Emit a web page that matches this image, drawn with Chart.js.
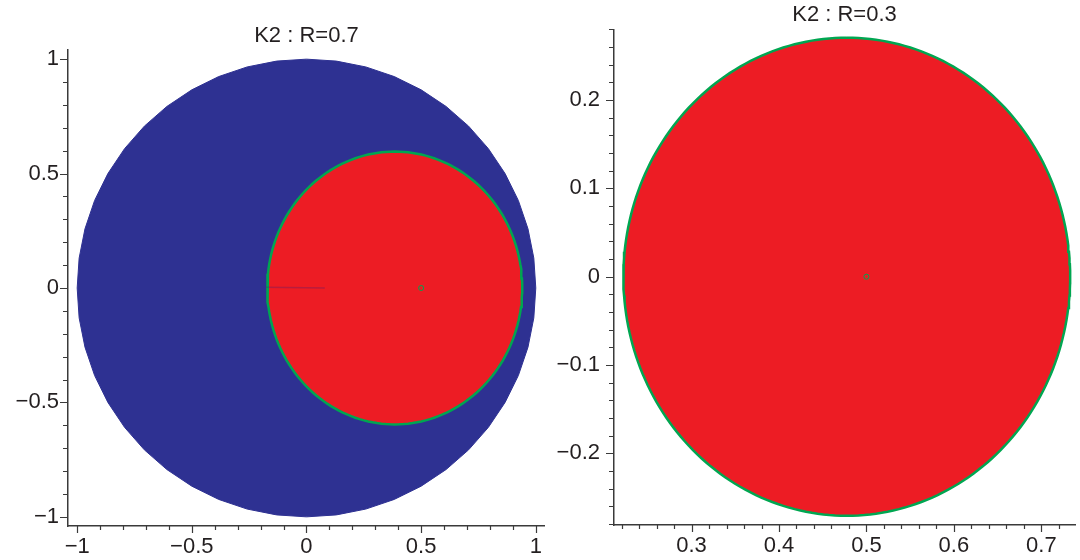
<!DOCTYPE html>
<html lang="en">
<head>
    <meta charset="UTF-8">
    <title>K2 images, R=0.7 and R=0.3</title>
    <script src="https://cdn.jsdelivr.net/npm/chart.js@4/dist/chart.umd.min.js"></script>
    <style>
        body {
            margin: 0;
            padding: 0;
            background: #ffffff;
            width: 1080px;
            height: 560px;
            overflow: hidden;
            position: relative;
        }
        canvas {
            position: absolute;
            top: 0;
        }
        #leftChart { left: 0; }
        #rightChart { left: 548px; }
    </style>
</head>
<body>
    <canvas id="leftChart" width="550" height="560"></canvas>
    <canvas id="rightChart" width="532" height="560"></canvas>

    <script>
        // --- data ---
        const leftTitle = 'K2 : R=0.7';
        const rightTitle = 'K2 : R=0.3';

        // left panel: blue unit disk (drawn as a 48-gon), red ellipse, green marker
        const blueDiskCenter = [0, 0];
        const blueDiskRadius = [1.0, 1.0];
        const blueDiskSides = 48;
        const leftRedCenter = [0.385, 0];
        const leftRedRadius = [0.556, 0.596];
        const leftStreakX = [-0.175, 0.08];
        const leftStreakY = [0.003, 0.0];
        const markerX = [0.5];
        const markerY = [0];

        // right panel: red ellipse and the same marker
        const rightRedCenter = [0.4775, 0];
        const rightRedRadius = [0.2555, 0.2705];

        // axes
        const leftRange = [-1.04, 1.04];
        const leftYRange = [-1.04, 1.04];
        const leftMajor = [-1, -0.5, 0, 0.5, 1];
        const leftLabels = ['\u22121', '\u22120.5', '0', '0.5', '1'];
        const leftMinorStep = 0.1;

        const rightXRange = [0.2113, 0.7385];
        const rightYRange = [-0.281, 0.28];
        const rightXMajor = [0.3, 0.4, 0.5, 0.6, 0.7];
        const rightXLabels = ['0.3', '0.4', '0.5', '0.6', '0.7'];
        const rightXMinor = [0.22, 0.72];
        const rightYMajor = [-0.2, -0.1, 0, 0.1, 0.2];
        const rightYLabels = ['\u22120.2', '\u22120.1', '0', '0.1', '0.2'];
        const rightYMinor = [-0.28, 0.28];
        const rightMinorStep = 0.02;

        const blue = '#2e3192';
        const red = '#ed1c24';
        const green = '#00a651';
        const axisColor = '#3a3a3a';
        const textColor = '#231f20';
        const fontFamily = '"Liberation Sans", Arial, Helvetica, sans-serif';

        // outline points of an ellipse given centre and radii
        function outline(center, radius, sides) {
            const pts = [];
            for (let i = 0; i <= sides; i++) {
                const a = Math.PI / 2 + 2 * Math.PI * i / sides;
                pts.push({x: center[0] + radius[0] * Math.cos(a), y: center[1] + radius[1] * Math.sin(a)});
            }
            return pts;
        }

        function steps(from, to, step) {
            const out = [];
            const n = Math.round((to - from) / step);
            for (let i = 0; i <= n; i++) out.push(+(from + i * step).toFixed(6));
            return out;
        }

        function zip(xs, ys) {
            return xs.map((x, i) => ({x: x, y: ys[i]}));
        }

        // major and minor tick marks, drawn on the library's own scales
        const tickMarks = {
            id: 'tickMarks',
            afterDraw(chart, args, opts) {
                const ctx = chart.ctx;
                const xs = chart.scales.x, ys = chart.scales.y;
                const isMajor = (list, v) => list.some(m => Math.abs(m - v) < 1e-6);
                ctx.save();
                ctx.strokeStyle = axisColor;
                ctx.lineWidth = 1.2;
                ctx.beginPath();
                opts.xTicks.forEach(v => {
                    const px = Math.round(xs.getPixelForValue(v)) + 0.5;
                    const len = isMajor(opts.xMajor, v) ? 7 : 4;
                    ctx.moveTo(px, xs.top);
                    ctx.lineTo(px, xs.top + len);
                });
                opts.yTicks.forEach(v => {
                    const py = Math.round(ys.getPixelForValue(v)) + 0.5;
                    const len = isMajor(opts.yMajor, v) ? 8 : 5;
                    ctx.moveTo(ys.right, py);
                    ctx.lineTo(ys.right - len, py);
                });
                ctx.stroke();
                ctx.restore();
            }
        };

        function axis(range, major, labels, opts) {
            return {
                type: 'linear',
                position: opts.position,
                min: range[0],
                max: range[1],
                afterBuildTicks: s => { s.ticks = major.map(v => ({value: v})); },
                afterFit: s => {
                    if (opts.position === 'left') s.width = opts.size;
                    else s.height = opts.size;
                },
                grid: {display: false, drawTicks: false},
                border: {display: true, color: axisColor, width: 1.5},
                ticks: {
                    autoSkip: false,
                    maxRotation: 0,
                    padding: opts.padding,
                    color: textColor,
                    font: {family: fontFamily, size: 22},
                    callback: (value, index) => labels[index]
                }
            };
        }

        function titleOpts(text, top, bottom) {
            return {
                display: true,
                text: text,
                fullSize: false,
                color: textColor,
                font: {family: fontFamily, size: 22, weight: 'normal', lineHeight: 1.2},
                padding: {top: top, bottom: bottom}
            };
        }

        const shapeStyle = (fillColor, lineColor, width) => ({
            showLine: true,
            fill: 'shape',
            backgroundColor: fillColor,
            borderColor: lineColor,
            borderWidth: width,
            pointRadius: 0,
            tension: 0
        });

        const markerSet = {
            data: zip(markerX, markerY),
            showLine: false,
            pointRadius: 2.5,
            pointBorderWidth: 1,
            pointBorderColor: green,
            pointBackgroundColor: 'rgba(0,0,0,0)'
        };

        new Chart(document.getElementById('leftChart'), {
            type: 'scatter',
            data: {
                datasets: [
                    markerSet,
                    {
                        data: zip(leftStreakX, leftStreakY),
                        showLine: true,
                        borderColor: 'rgba(90, 30, 110, 0.35)',
                        borderWidth: 1.5,
                        pointRadius: 0
                    },
                    Object.assign({data: outline(leftRedCenter, leftRedRadius, 180)}, shapeStyle(red, green, 2.5)),
                    Object.assign({data: outline(blueDiskCenter, blueDiskRadius, blueDiskSides)}, shapeStyle(blue, blue, 1))
                ]
            },
            options: {
                responsive: false,
                animation: false,
                events: [],
                devicePixelRatio: 1,
                layout: {padding: {left: 0, right: 5, top: 0, bottom: 0}},
                scales: {
                    x: axis(leftRange, leftMajor, leftLabels, {position: 'bottom', size: 34, padding: 8}),
                    y: axis(leftYRange, leftMajor, leftLabels, {position: 'left', size: 68, padding: 9})
                },
                plugins: {
                    legend: {display: false},
                    tooltip: {enabled: false},
                    title: titleOpts(leftTitle, 22.8, 0.8),
                    tickMarks: {
                        xTicks: steps(leftMajor[0], leftMajor[leftMajor.length - 1], leftMinorStep),
                        xMajor: leftMajor,
                        yTicks: steps(leftMajor[0], leftMajor[leftMajor.length - 1], leftMinorStep),
                        yMajor: leftMajor
                    }
                }
            },
            plugins: [tickMarks]
        });

        new Chart(document.getElementById('rightChart'), {
            type: 'scatter',
            data: {
                datasets: [
                    markerSet,
                    Object.assign({data: outline(rightRedCenter, rightRedRadius, 240)}, shapeStyle(red, green, 2.5))
                ]
            },
            options: {
                responsive: false,
                animation: false,
                events: [],
                devicePixelRatio: 1,
                layout: {padding: {left: 0, right: 0, top: 0, bottom: 0}},
                scales: {
                    x: axis(rightXRange, rightXMajor, rightXLabels, {position: 'bottom', size: 35, padding: 8}),
                    y: axis(rightYRange, rightYMajor, rightYLabels, {position: 'left', size: 66, padding: 14})
                },
                plugins: {
                    legend: {display: false},
                    tooltip: {enabled: false},
                    title: titleOpts(rightTitle, 1.8, 1.1),
                    tickMarks: {
                        xTicks: steps(rightXMinor[0], rightXMinor[1], rightMinorStep),
                        xMajor: rightXMajor,
                        yTicks: steps(rightYMinor[0], rightYMinor[1], rightMinorStep),
                        yMajor: rightYMajor
                    }
                }
            },
            plugins: [tickMarks]
        });
    </script>
</body>
</html>
